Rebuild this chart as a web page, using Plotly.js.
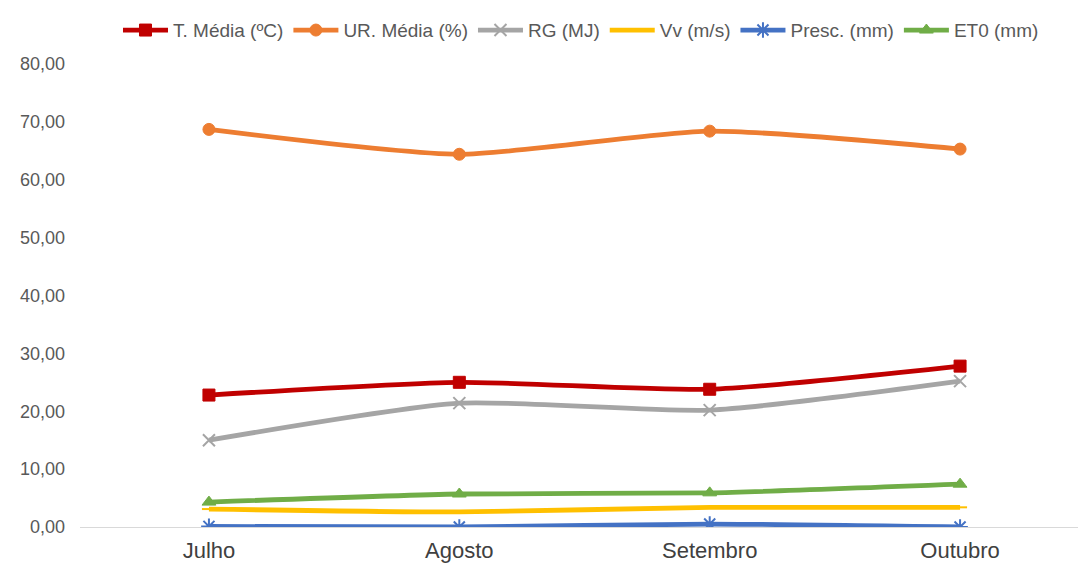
<!DOCTYPE html>
<html>
<head>
<meta charset="utf-8">
<script src="https://cdn.plot.ly/plotly-3.0.1.min.js"></script>
<style>
  html, body { margin: 0; padding: 0; background: #fff; }
  #chart { width: 1078px; height: 567px; }
</style>
</head>
<body>
<div id="chart"></div>
<script>
// Monthly climate summary
const months = ['Julho', 'Agosto', 'Setembro', 'Outubro'];
const tMedia = [22.8, 25.0, 23.8, 27.8];
const urMedia = [68.7, 64.4, 68.4, 65.3];
const rg = [15.0, 21.4, 20.2, 25.2];
const vv = [3.1, 2.6, 3.4, 3.4];
const presc = [0.1, 0.0, 0.5, 0.0];
const et0 = [4.3, 5.7, 5.9, 7.4];
const yTicks = [0, 10, 20, 30, 40, 50, 60, 70, 80];

function series(name, values, color, symbol, size, lineWidth) {
  return {
    type: 'scatter',
    mode: 'lines+markers',
    name: name,
    x: months,
    y: values,
    line: { color: color, width: 4.8, shape: 'spline', smoothing: 0.6 },
    marker: { symbol: symbol, size: size, color: color, line: { color: color, width: lineWidth } }
  };
}

const traces = [
  series('T. Média (ºC)', tMedia, '#C00000', 'square', 12, 1),
  series('UR. Média (%)', urMedia, '#ED7D31', 'circle', 12, 1),
  series('RG (MJ)', rg, '#A5A5A5', 'x-thin-open', 12, 2),
  series('Vv (m/s)', vv, '#FFC000', 'line-ew-open', 10, 2),
  series('Presc. (mm)', presc, '#4472C4', 'asterisk-open', 13, 2),
  series('ET0 (mm)', et0, '#70AD47', 'triangle-up', 12, 1)
];

const layout = {
  width: 1078,
  height: 567,
  paper_bgcolor: '#ffffff',
  plot_bgcolor: '#ffffff',
  separators: ',.',
  font: { family: 'Liberation Sans, Arial, sans-serif', color: '#595959' },
  margin: { l: 80, r: 0, t: 64, b: 40 },
  showlegend: true,
  legend: {
    orientation: 'h',
    x: 0.502, xanchor: 'center',
    y: 1.073, yanchor: 'middle',
    font: { size: 19, color: '#595959' },
    itemwidth: 45,
    traceorder: 'normal',
    tracegroupgap: 0
  },
  xaxis: {
    type: 'category',
    categoryorder: 'array',
    categoryarray: months,
    range: [-0.515, 3.471],
    showgrid: false,
    zeroline: false,
    showline: false,
    ticks: '',
    tickfont: { size: 22, color: '#404040' },
    ticklabelstandoff: 8
  },
  yaxis: {
    range: [0, 80],
    tickvals: yTicks,
    tickformat: '.2f',
    showgrid: false,
    zeroline: true,
    zerolinecolor: '#D9D9D9',
    zerolinewidth: 1,
    showline: false,
    ticks: '',
    tickfont: { size: 18, color: '#595959' },
    ticklabelstandoff: 14
  }
};

Plotly.newPlot('chart', traces, layout, { displayModeBar: false, staticPlot: true });
</script>
</body>
</html>
